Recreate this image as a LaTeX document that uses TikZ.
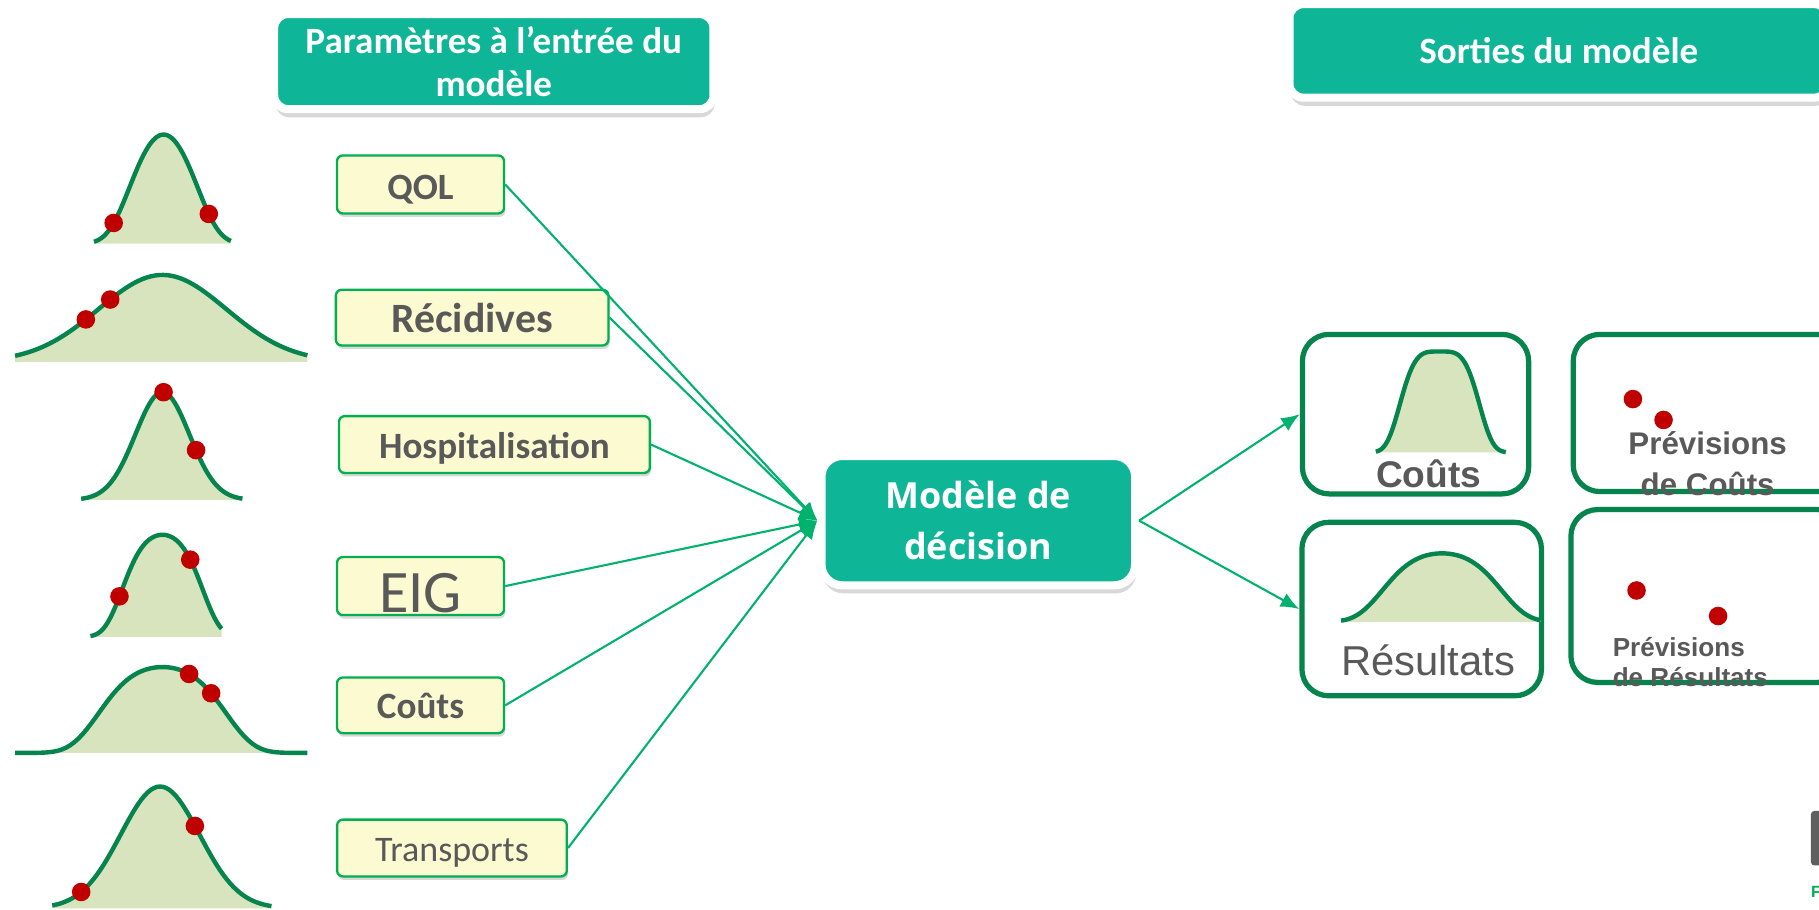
\documentclass[tikz,border=0pt]{standalone}
\usepackage{fontspec}
\setmainfont{Carlito}
\newfontfamily\opensans{Open Sans}
\newfontfamily\arialfont{Liberation Sans}
\usetikzlibrary{arrows.meta,positioning,shadows}

\definecolor{tealbox}{RGB}{14,182,151}
\definecolor{paramfill}{RGB}{252,250,208}
\definecolor{paramline}{RGB}{0,176,80}
\definecolor{linkgreen}{RGB}{0,178,110}
\definecolor{bellline}{RGB}{6,132,78}
\definecolor{bellfill}{RGB}{216,228,190}
\definecolor{dotred}{RGB}{192,0,0}
\definecolor{labelgray}{RGB}{89,89,89}
\definecolor{logogray}{RGB}{95,95,95}

\begin{document}
\begin{tikzpicture}[x=1pt,y=-1pt,
    declare function={bellf(\t,\q)=exp(-min((1-\q)*(\t)*(\t)+\q*(\t)*(\t)*(\t)*(\t),40));},
    title node/.style={rectangle,rounded corners=12pt,fill=tealbox,draw=white,line width=7pt,
      text=white,font=\bfseries\fontsize{32}{37.4}\selectfont,align=center,
      drop shadow={shadow xshift=1pt,shadow yshift=-7pt,opacity=.3}},
    param node/.style={rectangle,rounded corners=5pt,fill=paramfill,draw=paramline,line width=2pt,
      text=labelgray,inner sep=0pt,text height=24pt,text depth=0pt,
      drop shadow={shadow xshift=1pt,shadow yshift=-3pt,opacity=.3}},
    out node/.style={rectangle,rounded corners=23pt,draw=bellline,line width=4.5pt,fill=white},
    out label/.style={text=labelgray,anchor=base,align=center,inner sep=0pt},
    link/.style={draw=linkgreen,line width=1.8pt,-{Latex[length=16pt,width=13pt]}},
    bell line/.style={draw=bellline,line width=3.8pt}]

  \useasboundingbox (0,0) rectangle (1568,784);
  \clip (0,0) rectangle (1568,784);
  \fill[white] (0,0) rectangle (1568,784);

  % input distributions
  \foreach \c/\s/\h/\yb/\q/\xl/\xr/\pts in {
      141/35/94/210/0.2/81/199/{98,180},
      140/78/75/312/0/13/265/{74,95},
      140/33/93/431/0/70/209/{141,169},
      140/38/88/549/0.5/78/191/{103,164},
      140/60/74/649/0.5/13/265/{163,182},
      138/48/105/783/0/45/234/{70,168}}
  {
    \fill[bellfill] (\xl,\yb) -- plot[domain=\xl:\xr,samples=70] (\x,{\yb-\h*bellf((\x-\c)/\s,\q)}) -- (\xr,\yb) -- cycle;
    \draw[bell line] plot[domain=\xl:\xr,samples=70] (\x,{\yb-\h*bellf((\x-\c)/\s,\q)});
    \foreach \p in \pts
      \fill[dotred] (\p,{\yb-\h*bellf((\p-\c)/\s,\q)}) circle (8pt);
  }

  \node[title node,minimum width=378.7pt,minimum height=82pt] (ttlin) at (425.7,53.1) {Paramètres à l’entrée du\\modèle};
  \node[title node,minimum width=464.4pt,minimum height=80.7pt] (ttlout) at (1343.7,43.85) {Sorties du modèle};

  \node[param node,minimum width=144pt,minimum height=50pt,text height=25.6pt,font=\bfseries\fontsize{32}{36}\selectfont] (qol) at (362.5,159) {QOL};
  \node[param node,minimum width=235pt,minimum height=48pt,text height=26.4pt,font=\bfseries\fontsize{36}{40}\selectfont] (recid) at (407,273.8) {Récidives};
  \node[param node,minimum width=268pt,minimum height=49pt,font=\bfseries\fontsize{32}{36}\selectfont] (hosp) at (426.2,383.2) {Hospitalisation};
  \node[param node,minimum width=144pt,minimum height=50pt,text height=46pt,font=\fontsize{52}{56}\selectfont] (eig) at (362.5,505.2) {EIG};
  \node[param node,minimum width=144pt,minimum height=48pt,text height=23pt,font=\bfseries\fontsize{32}{36}\selectfont] (couts) at (362.5,608) {Coûts};
  \node[param node,minimum width=198pt,minimum height=49pt,font=\fontsize{31}{35}\selectfont] (transp) at (389.6,731) {Transports};

  \node[title node,minimum width=270.4pt,minimum height=111.5pt,rounded corners=18pt,
    font=\opensans\bfseries\fontsize{31}{44}\selectfont] (modele) at (843.3,448.8) {Modèle de\\décision};

  % outputs
  \node[out node,minimum width=195pt,minimum height=137.5pt] (outcout) at (1220.2,357) {};
  \node[out node,minimum width=233.75pt,minimum height=135.5pt] (prevcout) at (1473,356) {};
  \node[out node,minimum width=206.5pt,minimum height=149.5pt] (outres) at (1225.5,525) {};
  \node[out node,minimum width=235.75pt,minimum height=149pt] (prevres) at (1472,513.75) {};

  \foreach \c/\s/\h/\yb/\q/\xl/\xr in {1241/37/87/390/1/1186/1298, 1243/56/59/536/0.5/1156/1328}
  {
    \fill[bellfill] (\xl,\yb) -- plot[domain=\xl:\xr,samples=70] (\x,{\yb-\h*bellf((\x-\c)/\s,\q)}) -- (\xr,\yb) -- cycle;
    \draw[bell line] plot[domain=\xl:\xr,samples=70] (\x,{\yb-\h*bellf((\x-\c)/\s,\q)});
  }
  \foreach \p in {(1407.6,344),(1434,362),(1410.7,509),(1481,531)}
    \fill[dotred] \p circle (8pt);

  \node[out label,font=\arialfont\bfseries\fontsize{32}{36}\selectfont] (lcout) at (1231.5,420) {Coûts};
  \node[out label,font=\arialfont\fontsize{36}{40}\selectfont] (lres) at (1231,582) {Résultats};
  \node[out label,font=\arialfont\bfseries\fontsize{27}{35}\selectfont] (lprevcout) at (1472,427) {Prévisions\\de Coûts};
  \node[out label,anchor=base west,align=left,font=\arialfont\bfseries\fontsize{22.5}{26}\selectfont] (lprevres) at (1390,592) {Prévisions\\de Résultats};

  \path
    (qol.east) edge[link] (modele.west)
    (recid.east) edge[link] (modele.west)
    (hosp.east) edge[link] (modele.west)
    (eig.east) edge[link] (modele.west)
    (couts.east) edge[link] (modele.west)
    (transp.east) edge[link] (modele.west)
    (modele.east) edge[link] (outcout.west)
    (modele.east) edge[link] (outres.west);

  % logo corner
  \fill[logogray,rounded corners=3pt] (1561,699) rectangle (1585,746);
  \node[anchor=base west,inner sep=0pt,text=paramline,font=\arialfont\bfseries\fontsize{14}{16}\selectfont] (logof) at (1561,774) {F};
\end{tikzpicture}
\end{document}
